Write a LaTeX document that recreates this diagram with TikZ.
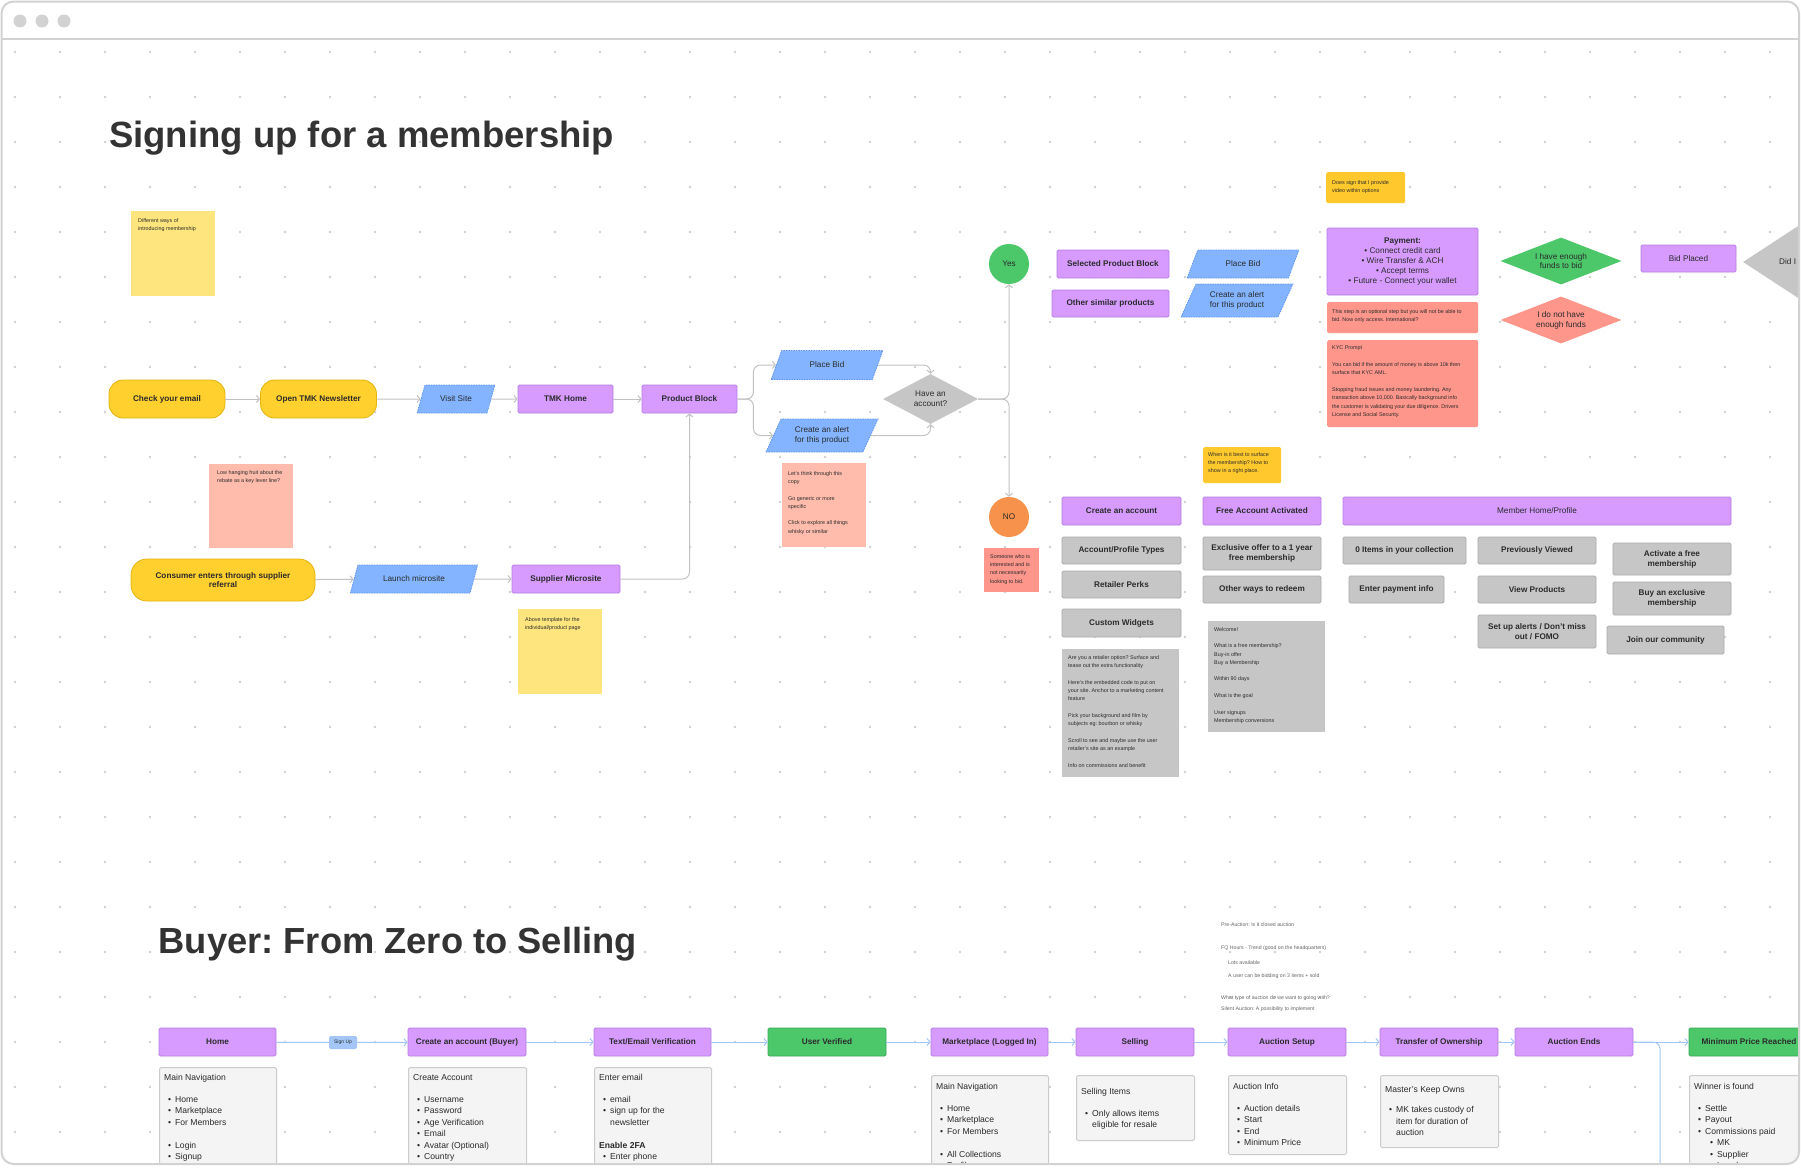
\documentclass[tikz,border=0pt]{standalone}
\usepackage{fontspec}
\setmainfont{Liberation Sans}
\usetikzlibrary{shapes.geometric,arrows.meta}
\frenchspacing
\definecolor{purp}{HTML}{D79BFF}
\definecolor{purpd}{HTML}{B67DE6}
\definecolor{grayb}{HTML}{C6C6C6}
\definecolor{grayd}{HTML}{ABABAB}
\definecolor{blu}{HTML}{84B4FF}
\definecolor{blud}{HTML}{5C92EE}
\definecolor{pillc}{HTML}{FFD02E}
\definecolor{pilld}{HTML}{E3B40E}
\definecolor{paley}{HTML}{FFE57D}
\definecolor{pinkl}{HTML}{FFBCAC}
\definecolor{salm}{HTML}{FF968C}
\definecolor{goldc}{HTML}{FFC92E}
\definecolor{grn}{HTML}{4CC76A}
\definecolor{grnd}{HTML}{38A955}
\definecolor{orng}{HTML}{F7924D}
\definecolor{dotc}{HTML}{CFCFCF}
\definecolor{lgray}{HTML}{C2C2C2}
\definecolor{lblue}{HTML}{A3C6F7}
\definecolor{detf}{HTML}{F4F4F4}
\definecolor{detd}{HTML}{CCCCCC}
\definecolor{txt}{HTML}{2B2B2B}
\definecolor{ttl}{HTML}{333333}
\definecolor{framec}{HTML}{D2D2D2}
\definecolor{floatc}{HTML}{666666}
\newcommand\myLbl{\fontsize{8.2}{9.8}\selectfont\bfseries}
\newcommand\myLblR{\fontsize{8.2}{9.8}\selectfont}
\newcommand\myNote{\fontsize{5.4}{8.3}\selectfont}
\newcommand\myDet{\fontsize{8.6}{11.5}\selectfont}
\newcommand\myTitle{\fontsize{36.5}{40}\selectfont\bfseries}
\newcommand\myTitleB{\fontsize{36.3}{40}\selectfont\bfseries}
\newcommand\myFloat{\fontsize{5.2}{6.5}\selectfont}
\newcommand\myBu{\hspace*{4pt}\textbullet\hspace{4pt}}
\newcommand\myBc{\hspace*{4pt}\phantom{\textbullet}\hspace{4pt}}
\newcommand\myBs{\hspace*{16pt}\textbullet\hspace{4pt}}
\begin{document}
\begin{tikzpicture}[x=1pt,y=-1pt,
  pbx/.style={rectangle, rounded corners=1.5, draw=purpd, fill=purp, line width=0.8, inner sep=2, align=center, font=\myLbl, text=txt},
  gbx/.style={pbx, draw=grayd, fill=grayb},
  grbx/.style={pbx, draw=grnd, fill=grn},
  pillbx/.style={rectangle, rounded corners=14, draw=pilld, fill=pillc, line width=0.8, align=center, font=\myLbl, text=txt, inner sep=2},
  para/.style={trapezium, trapezium left angle=62, trapezium right angle=118, trapezium stretches=true, fill=blu, draw=blud, dash pattern=on 1.5pt off 1pt, line width=0.7, align=center, font=\myLblR, text=txt, inner sep=1},
  dia/.style={diamond, inner sep=0, align=center, font=\myLblR, text=txt},
  circ/.style={circle, minimum size=40, inner sep=0, font=\myLblR, text=txt},
  notebox/.style={rectangle, inner sep=0, anchor=north west},
  notetxt/.style={anchor=north west, align=left, inner sep=0, font=\myNote, text=txt},
  detbox/.style={rectangle, fill=detf, draw=detd, line width=1, rounded corners=1.5, anchor=north west, inner sep=0},
  dettxt/.style={anchor=north west, align=left, inner sep=0, font=\myDet, text=txt},
  floattxt/.style={anchor=west, inner sep=0, font=\myFloat, text=floatc},
  conn/.style={draw=lgray, line width=1, rounded corners=7, -{Straight Barb[length=3pt,width=7pt]}},
  bconn/.style={conn, draw=lblue},
  bline/.style={draw=lblue, line width=1, rounded corners=7}
]
\useasboundingbox (0,0) rectangle (1801,1167);
\fill[white] (0,0) rectangle (1801,1167);
\begin{scope}
\clip[rounded corners=12] (1.5,1.5) rectangle (1799,1164);
% dot grid
\foreach \i in {0,...,39}{\foreach \j in {0,...,24}{\fill[dotc] (15+45*\i,52+45*\j) circle[radius=1.3pt];}}

% titles
\node[anchor=base west, font=\myTitle, text=ttl, inner sep=0] (title1) at (109,147) {Signing up for a membership};
\node[anchor=base west, font=\myTitleB, text=ttl, inner sep=0] (title2) at (158.5,953) {Buyer: From Zero to Selling};

% sticky notes
\node[notebox, fill=paley, minimum width=84, minimum height=85] (note1) at (131,211) {};
\node[notetxt] (note1t) at (138,218) {Different ways of\\introducing membership};
\node[notebox, fill=pinkl, minimum width=84, minimum height=84] (note2) at (209,464) {};
\node[notetxt] (note2t) at (217,470) {Low hanging fruit about the\\rebate as a key lever line?};
\node[notebox, fill=paley, minimum width=84, minimum height=85] (note3) at (518,609) {};
\node[notetxt] (note3t) at (525,617) {Above template for the\\individual/product page};
\node[notebox, fill=pinkl, minimum width=84, minimum height=84] (note4) at (782,463) {};
\node[notetxt] (note4t) at (788,471) {Let's think through this\\copy\\[8.3pt]Go generic or more\\specific\\[8.3pt]Click to explore all things\\whisky or similar};
\node[notebox, fill=salm, minimum width=55, minimum height=44] (note5) at (984,548) {};
\node[notetxt] (note5t) at (990,554) {Someone who is\\interested and is\\not necessarily\\looking to bid.};
\node[notebox, fill=goldc, minimum width=79, minimum height=31, rounded corners=1.5] (note6) at (1326,172) {};
\node[notetxt] (note6t) at (1332,180) {Does sign that I provide\\video within options};
\node[notebox, fill=salm, minimum width=151, minimum height=31, rounded corners=1.5] (note7) at (1327,302) {};
\node[notetxt] (note7t) at (1332,309) {This step is an optional step but you will not be able to\\bid. Now only access. International?};
\node[notebox, fill=salm, minimum width=151, minimum height=87, rounded corners=1.5] (note8) at (1327,340) {};
\node[notetxt] (note8t) at (1332,346) {KYC Prompt\\[8.3pt]You can bid if the amount of money is above 10k then\\surface that KYC AML.\\[8.3pt]Stopping fraud issues and money laundering. Any\\transaction above 10,000. Basically background info\\the customer is validating your due diligence. Drivers\\License and Social Security.};
\node[notebox, fill=goldc, minimum width=78, minimum height=36, rounded corners=1.5] (note9) at (1203,447) {};
\node[notetxt] (note9t) at (1208,452) {When is it best to surface\\the membership? How to\\show in a right place.};
\node[notebox, fill=grayb, minimum width=117, minimum height=128] (note10) at (1062,649) {};
\node[notetxt] (note10t) at (1068,655) {Are you a retailer option? Surface and\\tease out the extra functionality\\[8.3pt]Here's the embedded code to put on\\your site. Anchor to a marketing content\\feature\\[8.3pt]Pick your background and film by\\subjects eg: bourbon or whisky\\[8.3pt]Scroll to see and maybe use the user\\retailer's site as an example\\[8.3pt]Info on commissions and benefit};
\node[notebox, fill=grayb, minimum width=117, minimum height=111] (note11) at (1208,621) {};
\node[notetxt] (note11t) at (1214,627) {Welcome!\\[8.3pt]What is a free membership?\\Buy-in offer\\Buy a Membership\\[8.3pt]Within 90 days\\[8.3pt]What is the goal\\[8.3pt]User signups\\Membership conversions};

% main flow
\node[pillbx, minimum width=116, minimum height=38] (check) at (167,399) {Check your email};
\node[pillbx, minimum width=116, minimum height=38] (open) at (318.5,399) {Open TMK Newsletter};
\node[para, minimum width=78, minimum height=28] (visit) at (456,399) {Visit Site};
\node[pbx, minimum width=95, minimum height=28] (tmkhome) at (565.5,399) {TMK Home};
\node[pbx, minimum width=95, minimum height=28] (product) at (689.5,399) {Product Block};
\node[para, minimum width=112, minimum height=29] (placebid1) at (827,365) {Place Bid};
\node[para, minimum width=112, minimum height=33] (alert1) at (822,435.5) {Create an alert\\for this product};
\node[dia, fill=grayb, minimum width=95, minimum height=50] (decide) at (930.5,399) {Have an\\account?};
\node[circ, fill=grn] (yes) at (1009,264) {Yes};
\node[circ, fill=orng] (no) at (1009,517) {NO};
\node[pillbx, minimum width=184, minimum height=42, rounded corners=16] (consumer) at (223,580) {Consumer enters through supplier\\referral};
\node[para, minimum width=128, minimum height=28] (launch) at (414,579) {Launch microsite};
\node[pbx, minimum width=108, minimum height=28] (supplier) at (566,579) {Supplier Microsite};

\draw[conn] (check) -- (open);
\draw[conn] (open) -- (visit);
\draw[conn] (visit) -- (tmkhome);
\draw[conn] (tmkhome) -- (product);
\draw[conn] (product.east) -- ++(16,0) |- (placebid1.west);
\draw[conn] (product.east) -- ++(16,0) |- (alert1.west);
\draw[conn] (placebid1.east) -| (decide.north);
\draw[conn] (alert1.east) -| (decide.south);
\draw[conn] (decide.east) -| (yes.south);
\draw[conn] (decide.east) -| (no.north);
\draw[conn] (consumer) -- (launch);
\draw[conn] (launch) -- (supplier);
\draw[conn] (supplier.east) -| (product.south);

% yes branch
\node[pbx, minimum width=112, minimum height=28] (selprod) at (1113,264) {Selected Product Block};
\node[pbx, minimum width=117, minimum height=27] (similar) at (1110.5,303.5) {Other similar products};
\node[para, minimum width=112, minimum height=28] (placebid2) at (1243,264) {Place Bid};
\node[para, minimum width=112, minimum height=33] (alert2) at (1237,300.5) {Create an alert\\for this product};
\node[pbx, minimum width=151, minimum height=67, font=\myLblR] (payment) at (1402.5,261.5) {\textbf{Payment:}\\\textbullet\ Connect credit card\\\textbullet\ Wire Transfer \& ACH\\\textbullet\ Accept terms\\\textbullet\ Future - Connect your wallet};
\node[dia, aspect=2.6, fill=grn, minimum width=121, minimum height=47] (enough) at (1561,261) {I have enough\\funds to bid};
\node[dia, aspect=2.6, fill=salm, minimum width=121, minimum height=47] (notenough) at (1561,320) {I do not have\\enough funds};
\node[pbx, minimum width=95, minimum height=27, font=\myLblR] (bidplaced) at (1688.5,258.5) {Bid Placed};
\node[dia, fill=grayb, minimum width=260, minimum height=170] (didi) at (1873,262) {};
\node[anchor=west, inner sep=0, font=\myLblR, text=txt] (diditxt) at (1779,262) {Did I};

% no branch
\node[pbx, minimum width=119, minimum height=28] (createacc) at (1121.5,511) {Create an account};
\node[gbx, minimum width=119, minimum height=27] (acctypes) at (1121.5,550.5) {Account/Profile Types};
\node[gbx, minimum width=119, minimum height=27] (perks) at (1121.5,584.5) {Retailer Perks};
\node[gbx, minimum width=119, minimum height=28] (widgets) at (1121.5,623) {Custom Widgets};
\node[pbx, minimum width=118, minimum height=28] (freeacc) at (1262,511) {Free Account Activated};
\node[gbx, minimum width=118, minimum height=33] (exclusive) at (1262,553.5) {Exclusive offer to a 1 year\\free membership};
\node[gbx, minimum width=118, minimum height=27] (redeem) at (1262,589.5) {Other ways to redeem};
\node[pbx, minimum width=388, minimum height=28, font=\myLblR] (memberhome) at (1537,511) {Member Home/Profile};
\node[gbx, minimum width=123, minimum height=27] (items) at (1404.5,550.5) {0 Items in your collection};
\node[gbx, minimum width=95, minimum height=27] (payinfo) at (1396.5,589.5) {Enter payment info};
\node[gbx, minimum width=118, minimum height=27] (viewed) at (1537,550.5) {Previously Viewed};
\node[gbx, minimum width=118, minimum height=27] (viewprod) at (1537,589.5) {View Products};
\node[gbx, minimum width=118, minimum height=33] (alerts) at (1537,631.5) {Set up alerts / Don't miss\\out / FOMO};
\node[gbx, minimum width=118, minimum height=32] (activate) at (1672,559) {Activate a free\\membership};
\node[gbx, minimum width=118, minimum height=33] (buyexcl) at (1672,598.5) {Buy an exclusive\\membership};
\node[gbx, minimum width=117, minimum height=28] (community) at (1665.5,640) {Join our community};

% floating notes (bottom right)
\node[floattxt] (pa1) at (1221,925) {Pre-Auction: Is it closed auction};
\node[floattxt] (pa2) at (1221,948) {FQ Hours - Trend (good on the headquarters)};
\node[floattxt] (pa3) at (1228,963) {Lots available};
\node[floattxt] (pa4) at (1228,976) {A user can be bidding on 3 items + sold};
\node[floattxt] (pa5) at (1221,998) {What type of auction do we want to going with?};
\node[floattxt] (pa6) at (1221,1009) {Silent Auction: A possibility to implement};

% bottom flow
\node[pbx, minimum width=117, minimum height=28] (bhome) at (217.5,1042) {Home};
\node[fill=lblue, rounded corners=2, font=\fontsize{5}{6}\selectfont, text=txt, minimum width=28, minimum height=13, inner sep=0] (signup) at (343,1042.5) {Sign Up};
\node[pbx, minimum width=118, minimum height=28] (bcreate) at (467,1042) {Create an account (Buyer)};
\node[pbx, minimum width=117, minimum height=28] (bverify) at (652.5,1042) {Text/Email Verification};
\node[grbx, minimum width=118, minimum height=28] (bverified) at (827,1042) {User Verified};
\node[pbx, minimum width=117, minimum height=28] (bmarket) at (989.5,1042) {Marketplace (Logged In)};
\node[pbx, minimum width=118, minimum height=28] (bselling) at (1135,1042) {Selling};
\node[pbx, minimum width=118, minimum height=28] (bsetup) at (1287,1042) {Auction Setup};
\node[pbx, minimum width=118, minimum height=28] (btransfer) at (1439,1042) {Transfer of Ownership};
\node[pbx, minimum width=118, minimum height=28] (bends) at (1574,1042) {Auction Ends};
\node[grbx, minimum width=120, minimum height=28] (bmin) at (1749,1042) {Minimum Price Reached};
\coordinate (bdown) at (1660,1190);

\draw[bline] (bhome) -- (signup);
\draw[bconn] (signup) -- (bcreate);
\draw[bconn] (bcreate) -- (bverify);
\draw[bconn] (bverify) -- (bverified);
\draw[bconn] (bverified) -- (bmarket);
\draw[bconn] (bmarket) -- (bselling);
\draw[bconn] (bselling) -- (bsetup);
\draw[bconn] (bsetup) -- (btransfer);
\draw[bconn] (btransfer) -- (bends);
\draw[bconn] (bends) -- (bmin);
\draw[bline] (bends.east) -| (bdown);

% detail boxes
\node[detbox, minimum width=117, minimum height=120] (dhome) at (159,1067) {};
\node[dettxt] (dhomet) at (164,1074) {Main Navigation\\[10.5pt]\myBu Home\\\myBu Marketplace\\\myBu For Members\\[11.5pt]\myBu Login\\\myBu Signup};
\node[detbox, minimum width=118, minimum height=120] (dcreate) at (408,1067) {};
\node[dettxt] (dcreatet) at (413,1074) {Create Account\\[10.5pt]\myBu Username\\\myBu Password\\\myBu Age Verification\\\myBu Email\\\myBu Avatar (Optional)\\\myBu Country};
\node[detbox, minimum width=117, minimum height=120] (dverify) at (594,1067) {};
\node[dettxt] (dverifyt) at (599,1074) {Enter email\\[10.5pt]\myBu email\\\myBu sign up for the\\\myBc newsletter\\[11.5pt]\textbf{Enable 2FA}\\\myBu Enter phone};
\node[detbox, minimum width=117, minimum height=120] (dmarket) at (931,1075) {};
\node[dettxt] (dmarkett) at (936,1083) {Main Navigation\\[10.5pt]\myBu Home\\\myBu Marketplace\\\myBu For Members\\[11.5pt]\myBu All Collections\\\myBu Profile};
\node[detbox, minimum width=118, minimum height=65] (dselling) at (1076,1075) {};
\node[dettxt] (dsellingt) at (1081,1088) {Selling Items\\[10.5pt]\myBu Only allows items\\\myBc eligible for resale};
\node[detbox, minimum width=118, minimum height=79] (dsetup) at (1228,1075) {};
\node[dettxt] (dsetupt) at (1233,1083) {Auction Info\\[10.5pt]\myBu Auction details\\\myBu Start\\\myBu End\\\myBu Minimum Price};
\node[detbox, minimum width=118, minimum height=72] (dtransfer) at (1380,1075) {};
\node[dettxt] (dtransfert) at (1385,1086) {Master's Keep Owns\\[9pt]\myBu MK takes custody of\\\myBc item for duration of\\\myBc auction};
\node[detbox, minimum width=130, minimum height=120] (dmin) at (1689,1075) {};
\node[dettxt] (dmint) at (1694,1083) {Winner is found\\[10.5pt]\myBu Settle\\\myBu Payout\\\myBu Commissions paid\\\myBs MK\\\myBs Supplier\\\myBs Legal};
\end{scope}

% window frame
\draw[framec, line width=2, rounded corners=12] (1.5,1.5) rectangle (1799,1164);
\draw[framec, line width=1.5] (2,39) -- (1798,39);
\fill[framec] (20,21) circle[radius=6.5pt];
\fill[framec] (42,21) circle[radius=6.5pt];
\fill[framec] (64,21) circle[radius=6.5pt];
\end{tikzpicture}
\end{document}
